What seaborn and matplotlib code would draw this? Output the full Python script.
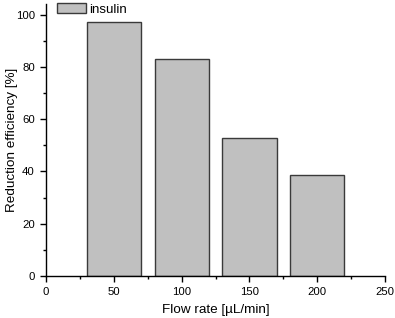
import matplotlib
matplotlib.use("Agg")
import matplotlib.pyplot as plt
import seaborn as sns
import pandas as pd
from matplotlib.ticker import MultipleLocator
from matplotlib.patches import Patch

flow_rates = [50, 100, 150, 200]
efficiency = [97, 83, 52.7, 38.5]
series_name = "insulin"

sns.set_style("ticks")
plt.rcParams['font.family'] = ['Liberation Sans', 'DejaVu Sans']
plt.rcParams['text.color'] = 'black'
plt.rcParams['axes.labelcolor'] = 'black'
plt.rcParams['xtick.color'] = 'black'
plt.rcParams['ytick.color'] = 'black'

df = pd.DataFrame({"flow": flow_rates, "eff": efficiency})

fig = plt.figure(figsize=(3.95, 3.18), dpi=100)
ax = fig.add_axes([0.1165, 0.132, 0.8585, 0.855])
sns.barplot(data=df, x="flow", y="eff", native_scale=True, width=0.8,
            color="#c0c0c0", edgecolor="#3a3a3a", linewidth=1.0, saturation=1, ax=ax)

ax.set_xlim(0, 250)
ax.set_ylim(0, 104)
ax.xaxis.set_major_locator(MultipleLocator(50))
ax.xaxis.set_minor_locator(MultipleLocator(25))
ax.yaxis.set_major_locator(MultipleLocator(20))
ax.yaxis.set_minor_locator(MultipleLocator(10))
ax.tick_params(which="major", length=4, width=1, labelsize=8.2, color="black",
               labelcolor="black", pad=4)
ax.tick_params(which="minor", length=2.5, width=1, color="black")
for s in ["top", "right"]:
    ax.spines[s].set_visible(False)
for s in ["left", "bottom"]:
    ax.spines[s].set_linewidth(1.0)
    ax.spines[s].set_color("black")

ax.set_xlabel("Flow rate [µL/min]", fontsize=9.7, labelpad=5, color="black")
ax.set_ylabel("Reduction efficiency [%]", fontsize=9.7, color="black")
ax.yaxis.set_label_coords(-0.082, 0.5)

handle = Patch(facecolor="#c0c0c0", edgecolor="#3a3a3a", linewidth=1.0)
leg = fig.legend([handle], [series_name], loc="upper left", bbox_to_anchor=(0.12, 1.02),
                 frameon=False, fontsize=9.5, handlelength=2.2, handleheight=0.8,
                 handletextpad=0.3, borderpad=0.2)
for t in leg.get_texts():
    t.set_color("black")

fig.savefig("out.png", dpi=100)
